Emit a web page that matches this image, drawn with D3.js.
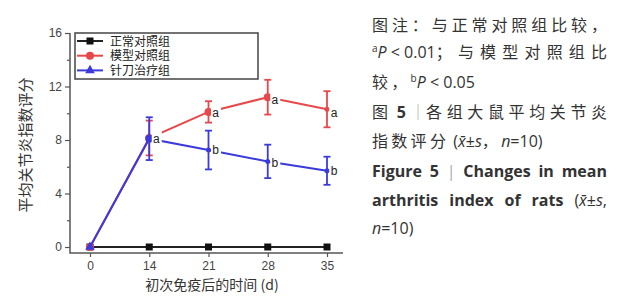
<!DOCTYPE html>
<html>
<head>
<meta charset="utf-8">
<script src="https://cdn.jsdelivr.net/npm/d3@7"></script>
<style>
  body { margin: 0; background: #fff; }
  svg { display: block; }
  .tick text { font-family: "Liberation Sans", Arial, sans-serif; font-size: 12px; fill: #444; }
</style>
</head>
<body>
<div id="chartDiv"></div>
<script>
// data
const days = ["0", "14", "21", "28", "35"];
const normalMean = [0, 0, 0, 0, 0];
const modelMean = [0, 8.15, 10.1, 11.2, 10.3];
const modelSd = [0, 1.3, 0.8, 1.3, 1.35];
const needleMean = [0, 8.1, 7.25, 6.4, 5.7];
const needleSd = [0, 1.6, 1.45, 1.25, 1.05];
const modelMarks = ["", "a", "a", "a", "a"];
const needleMarks = ["", "", "b", "b", "b"];
const yMajor = [0, 4, 8, 12, 16];
const yMinor = [2, 6, 10, 14];
const seriesNames = ["正常对照组", "模型对照组", "针刀治疗组"];

const W = 620, H = 300;
const svg = d3.select("#chartDiv").append("svg").attr("width", W).attr("height", H);

const x = d3.scalePoint().domain(days).range([90, 327]);
const y = d3.scaleLinear().domain([0, 16]).range([247, 33]);
const axisY0 = 253, axisX0 = 70;

//axes
svg.append("g")
  .attr("transform", `translate(${axisX0},0)`)
  .call(d3.axisLeft(y).tickValues(yMajor).tickSize(5).tickPadding(3).tickFormat(d3.format("d")))
  .call(g => g.select(".domain").remove());
svg.append("g")
  .attr("transform", `translate(${axisX0},0)`)
  .call(d3.axisLeft(y).tickValues(yMinor).tickSize(3).tickFormat(""))
  .call(g => g.select(".domain").remove());
svg.selectAll(".tick line").attr("stroke", "#555").attr("stroke-width", 1.2);

svg.append("g")
  .attr("transform", `translate(0,${axisY0})`)
  .call(d3.axisBottom(x).tickSize(4).tickPadding(4))
  .call(g => g.select(".domain").remove())
  .call(g => g.selectAll("line").attr("stroke", "#555").attr("stroke-width", 1.2));

svg.append("path")
  .attr("d", `M${axisX0},33V${axisY0}H343`)
  .attr("fill", "none").attr("stroke", "#555").attr("stroke-width", 1.5);

svg.append("text")
  .attr("transform", `translate(31,145) rotate(-90)`)
  .attr("text-anchor", "middle")
  .style("font-family", "'Noto Sans CJK SC'").style("font-size", "15px").attr("fill", "#333")
  .text("平均关节炎指数评分");
svg.append("text")
  .attr("x", 212).attr("y", 290)
  .attr("text-anchor", "middle")
  .style("font-family", "'Noto Sans CJK SC'").style("font-size", "14px").attr("fill", "#333")
  .text("初次免疫后的时间 (d)");

// series
const line = d3.line().x((d, i) => x(days[i])).y(d => y(d));
const red = "#e8484a", blue = "#3b3bdc";

function errBars(mean, sd, color) {
  const g = svg.append("g").attr("stroke", color).attr("stroke-width", 1.8);
  mean.forEach((m, i) => {
    if (!sd[i]) return;
    const cx = x(days[i]);
    g.append("line").attr("x1", cx).attr("x2", cx).attr("y1", y(m - sd[i])).attr("y2", y(m + sd[i]));
    [m - sd[i], m + sd[i]].forEach(v =>
      g.append("line").attr("x1", cx - 3.5).attr("x2", cx + 3.5).attr("y1", y(v)).attr("y2", y(v)));
  });
}

// normal
svg.append("path").datum(normalMean).attr("d", line)
  .attr("fill", "none").attr("stroke", "#222").attr("stroke-width", 2);
svg.selectAll(".sq").data(normalMean).enter().append("rect")
  .attr("x", (d, i) => x(days[i]) - 3.5).attr("y", d => y(d) - 3.5)
  .attr("width", 7).attr("height", 7).attr("fill", "#111");

// model
svg.append("path").datum(modelMean).attr("d", line)
  .attr("fill", "none").attr("stroke", red).attr("stroke-width", 2);
errBars(modelMean, modelSd, red);
svg.selectAll(".rc").data(modelMean).enter().append("circle")
  .attr("cx", (d, i) => x(days[i])).attr("cy", d => y(d))
  .attr("r", (d, i) => i === 4 ? 2.5 : 4).attr("fill", red);

// needle knife
svg.append("path").datum(needleMean).attr("d", line)
  .attr("fill", "none").attr("stroke", blue).attr("stroke-width", 2);
errBars(needleMean, needleSd, blue);
svg.selectAll(".bc").data(needleMean).enter().append("circle")
  .filter((d, i) => i > 0)
  .attr("cx", (d, i) => x(days[i + 1])).attr("cy", d => y(d))
  .attr("r", (d, i) => i === 0 ? 4 : 2.5).attr("fill", blue);
svg.append("path")
  .attr("d", d3.symbol(d3.symbolTriangle, 40)())
  .attr("transform", `translate(${x(days[0])},${y(needleMean[0])})`)
  .attr("fill", blue);

// significance marks with white boxes that break the lines
function marks(mean, labels, dy) {
  mean.forEach((m, i) => {
    if (!labels[i]) return;
    const lx = x(days[i]) + 7, ly = y(m) + dy[i];
    svg.append("rect").attr("x", lx - 4.5).attr("y", ly - 8).attr("width", 10).attr("height", 16).attr("fill", "#fff");
    svg.append("text").attr("x", lx).attr("y", ly + 4).attr("text-anchor", "middle")
      .style("font-family", "'Liberation Sans', Arial, sans-serif").style("font-size", "12px").attr("fill", "#222")
      .text(labels[i]);
  });
}
marks(modelMean, modelMarks, [0, 1, 1, 3, 4]);
marks(needleMean, needleMarks, [0, 0, 0, 2, 0]);

// legend
const lg = svg.append("g");
lg.append("rect").attr("x", 75).attr("y", 33).attr("width", 183).attr("height", 46)
  .attr("fill", "#fff").attr("stroke", "#444").attr("stroke-width", 1.5);
const legColors = ["#222", red, blue];
seriesNames.forEach((n, i) => {
  const ly = 41 + i * 14.7;
  lg.append("line").attr("x1", 77).attr("x2", 103).attr("y1", ly).attr("y2", ly)
    .attr("stroke", legColors[i]).attr("stroke-width", 2);
  if (i === 0) lg.append("rect").attr("x", 86.5).attr("y", ly - 3.5).attr("width", 7).attr("height", 7).attr("fill", "#111");
  if (i === 1) lg.append("circle").attr("cx", 90).attr("cy", ly).attr("r", 4).attr("fill", red);
  if (i === 2) lg.append("path").attr("d", d3.symbol(d3.symbolTriangle, 40)()).attr("transform", `translate(90,${ly})`).attr("fill", blue);
  lg.append("text").attr("x", 110).attr("y", ly + 4.5)
    .style("font-family", "'Noto Sans CJK SC'").style("font-size", "12px").attr("fill", "#222")
    .text(n);
});

// caption on the right, justified like the journal column
const cap = svg.append("g")
  .style("font-family", "'Open Sans', 'Noto Sans CJK SC', sans-serif").style("font-size", "16px").attr("fill", "#333");
const capX = 372, capW = 235, cjkGap = 3.3;
function capLine(yy, parts, justify) {
  const t = cap.append("text").attr("x", capX).attr("y", yy);
  const spans = parts.map(p => {
    const s = t.append("tspan").text(p.t);
    if (p.cjk) s.style("font-size", "16px");
    if (p.i) s.style("font-style", "italic");
    if (p.b) s.style("font-weight", "bold");
    if (p.sup) s.style("font-size", "10px").attr("dy", -6);
    if (p.down) s.attr("dy", 6);
    if (p.c) s.attr("fill", p.c);
    return s;
  });
  const cjk = spans.filter((s, k) => parts[k].cjk);
  if (!justify) {
    cjk.forEach(s => s.style("letter-spacing", cjkGap + "px"));
    return;
  }
  const natural = t.node().getComputedTextLength();
  const extra = capW - natural;
  const nCjk = d3.sum(parts, p => p.cjk ? p.t.length : 0);
  if (nCjk) {
    const endsCjk = parts[parts.length - 1].cjk;
    const ls = extra / (endsCjk ? nCjk - 1 : nCjk);
    cjk.forEach(s => s.style("letter-spacing", ls + "px"));
  } else {
    const nSp = d3.sum(parts, p => (p.t.match(/ /g) || []).length);
    t.style("word-spacing", (extra / nSp) + "px");
  }
}
capLine(31, [{t: "图注：与正常对照组比较，", cjk: 1}], true);
capLine(58, [{t: "a", sup: 1}, {t: "P", i: 1, down: 1}, {t: " < 0.01"}, {t: "；与模型对照组比", cjk: 1}], true);
capLine(88, [{t: "较，", cjk: 1}, {t: "b", sup: 1}, {t: "P", i: 1, down: 1}, {t: " < 0.05"}], false);
capLine(118, [{t: "图", cjk: 1}, {t: " 5 ", b: 1}, {t: "｜", c: "#aaa"}, {t: "各组大鼠平均关节炎", cjk: 1}], true);
capLine(147, [{t: "指数评分", cjk: 1}, {t: " ("}, {t: "x̄", i: 1}, {t: "±"}, {t: "s", i: 1}, {t: "，", cjk: 1}, {t: "n", i: 1}, {t: "=10)"}], false);
capLine(177, [{t: "Figure 5 ", b: 1}, {t: "|", c: "#aaa"}, {t: " Changes in mean", b: 1}], true);
capLine(206, [{t: "arthritis index of rats ", b: 1}, {t: "("}, {t: "x̄", i: 1}, {t: "±"}, {t: "s", i: 1}, {t: ","}], true);
capLine(234, [{t: "n", i: 1}, {t: "=10)"}], false);
</script>
</body>
</html>
